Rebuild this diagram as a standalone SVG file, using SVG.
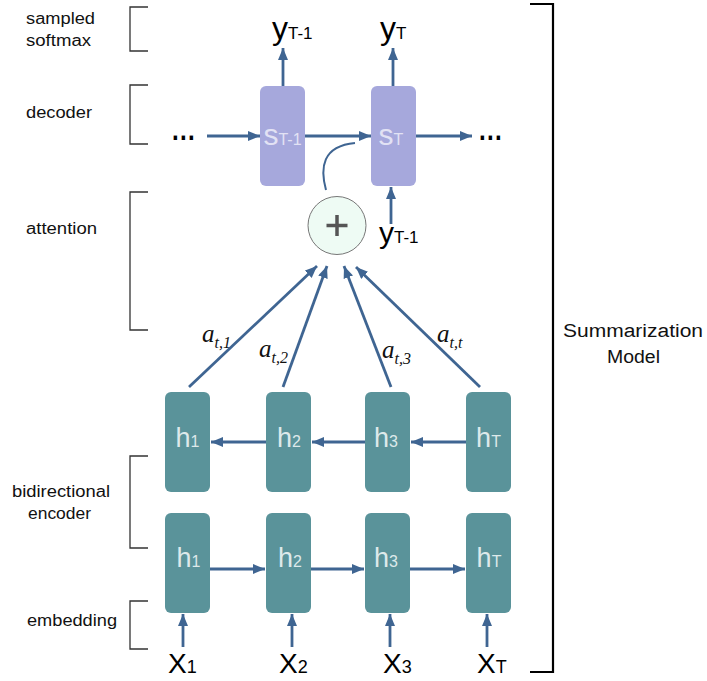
<svg xmlns="http://www.w3.org/2000/svg" width="707" height="681" viewBox="0 0 707 681">
<style>
.lbl{font-family:"Liberation Sans",Arial,sans-serif;font-size:16px;fill:#111}
.brk{fill:none;stroke:#333;stroke-width:1.3}
.dec{fill:#a6a8dc}
.enc{fill:#5a939a}
.dtx{font-family:"Liberation Sans",Arial,sans-serif;fill:#e2e2f4;text-anchor:middle}
.etx{font-family:"Liberation Sans",Arial,sans-serif;fill:#dde9ea;text-anchor:middle}
.big{font-family:"Liberation Sans",Arial,sans-serif;fill:#000}
.math{font-family:"Liberation Serif","Times New Roman",serif;font-style:italic;fill:#111}
.con{fill:none;stroke:#3f6592;stroke-width:2.8}
.arr{marker-end:url(#ah)}
</style>
<defs>
<marker id="ah" markerUnits="userSpaceOnUse" markerWidth="13" markerHeight="11" refX="12" refY="5" orient="auto">
<path d="M0,0 L12,5 L0,10 z" fill="#3f6592"/>
</marker>
</defs>
<rect width="707" height="681" fill="#fff"/>

<g id="labels">
<text class="lbl" x="26" y="24" textLength="69" lengthAdjust="spacingAndGlyphs">sampled</text>
<text class="lbl" x="26" y="46" textLength="65" lengthAdjust="spacingAndGlyphs">softmax</text>
<text class="lbl" x="26" y="118" textLength="66" lengthAdjust="spacingAndGlyphs">decoder</text>
<text class="lbl" x="26" y="234" textLength="71" lengthAdjust="spacingAndGlyphs">attention</text>
<text class="lbl" x="12" y="497" textLength="98" lengthAdjust="spacingAndGlyphs">bidirectional</text>
<text class="lbl" x="28" y="519" textLength="63" lengthAdjust="spacingAndGlyphs">encoder</text>
<text class="lbl" x="27" y="626" textLength="90" lengthAdjust="spacingAndGlyphs">embedding</text>
<text class="lbl" x="563" y="337" style="font-size:18px" textLength="140" lengthAdjust="spacingAndGlyphs">Summarization</text>
<text class="lbl" x="607" y="363" style="font-size:18px" textLength="53" lengthAdjust="spacingAndGlyphs">Model</text>
</g>

<g id="brackets">
<path class="brk" d="M148,7 H130 V51 H148"/>
<path class="brk" d="M148,85 H130 V144 H148"/>
<path class="brk" d="M148,192 H130 V330 H148"/>
<path class="brk" d="M148,456 H130 V548 H148"/>
<path class="brk" d="M148,601 H130 V649 H148"/>
<path d="M530,4 H553 V672 H530" fill="none" stroke="#000" stroke-width="2.2"/>
</g>

<g id="connectors">
<line class="con arr" x1="283" y1="86" x2="283" y2="48"/>
<line class="con arr" x1="393" y1="86" x2="393" y2="48"/>
<line class="con arr" x1="207" y1="136" x2="260" y2="136"/>
<line class="con arr" x1="305" y1="136" x2="371" y2="136"/>
<line class="con arr" x1="416" y1="136" x2="472" y2="136"/>
<line class="con arr" x1="391" y1="224" x2="391" y2="187"/>
<path class="con" style="stroke-width:2" d="M326,190 C320,168 322,146 355,143"/>
<line class="con arr" x1="189" y1="387" x2="317" y2="266"/>
<line class="con arr" x1="283" y1="387" x2="327" y2="266"/>
<line class="con arr" x1="391" y1="387" x2="344" y2="266"/>
<line class="con arr" x1="480" y1="387" x2="356" y2="267"/>
<line class="con arr" x1="266" y1="442" x2="211" y2="442"/>
<line class="con arr" x1="365" y1="442" x2="312" y2="442"/>
<line class="con arr" x1="466" y1="442" x2="411" y2="442"/>
<line class="con arr" x1="210" y1="569" x2="265" y2="569"/>
<line class="con arr" x1="311" y1="569" x2="364" y2="569"/>
<line class="con arr" x1="410" y1="569" x2="465" y2="569"/>
<line class="con arr" x1="183" y1="647" x2="183" y2="614"/>
<line class="con arr" x1="292" y1="647" x2="292" y2="614"/>
<line class="con arr" x1="390" y1="647" x2="390" y2="614"/>
<line class="con arr" x1="487" y1="647" x2="487" y2="614"/>
</g>

<g id="ellipses">
<text class="big" x="172" y="148" style="font-size:30px;font-weight:bold" textLength="24" lengthAdjust="spacingAndGlyphs">···</text>
<text class="big" x="479" y="148" style="font-size:30px;font-weight:bold" textLength="24" lengthAdjust="spacingAndGlyphs">···</text>
</g>

<g id="outputs">
<text class="big" x="272" y="39" style="font-size:32px">y<tspan style="font-size:17px">T-1</tspan></text>
<text class="big" x="380" y="39" style="font-size:32px">y<tspan style="font-size:17px">T</tspan></text>
</g>

<g id="s_T-1">
<rect class="dec" x="260" y="86" width="45" height="100" rx="6"/>
<text class="dtx" x="282.5" y="145" style="font-size:30px">s<tspan style="font-size:16px">T-1</tspan></text>
</g>
<g id="s_T">
<rect class="dec" x="371" y="86" width="45" height="100" rx="6"/>
<text class="dtx" x="391" y="145" style="font-size:30px">s<tspan style="font-size:16px">T</tspan></text>
</g>

<g id="y_prev">
<text class="big" x="379" y="243" style="font-size:30px">y<tspan style="font-size:17px">T-1</tspan></text>
</g>

<g id="attention_sum">
<circle cx="337" cy="225.5" r="29" fill="#eefbf4" stroke="#777" stroke-width="1"/>
<path d="M326.5,225.5 H347.5 M337,215 V236" stroke="#555" stroke-width="3.5"/>
</g>

<g id="weights">
<text class="math" x="202" y="342" style="font-size:25px">a<tspan dy="6" style="font-size:16px">t,1</tspan></text>
<text class="math" x="259" y="357" style="font-size:25px">a<tspan dy="6" style="font-size:16px">t,2</tspan></text>
<text class="math" x="382" y="358" style="font-size:25px">a<tspan dy="6" style="font-size:16px">t,3</tspan></text>
<text class="math" x="437" y="342" style="font-size:25px">a<tspan dy="6" style="font-size:16px">t,t</tspan></text>
</g>

<g id="hb1"><rect class="enc" x="165" y="392" width="45" height="100" rx="6"/><text class="etx" x="187.5" y="447" style="font-size:27px">h<tspan style="font-size:16px">1</tspan></text></g>
<g id="hb2"><rect class="enc" x="266" y="392" width="45" height="100" rx="6"/><text class="etx" x="289" y="447" style="font-size:27px">h<tspan style="font-size:16px">2</tspan></text></g>
<g id="hb3"><rect class="enc" x="365" y="392" width="45" height="100" rx="6"/><text class="etx" x="386" y="447" style="font-size:27px">h<tspan style="font-size:16px">3</tspan></text></g>
<g id="hbT"><rect class="enc" x="466" y="392" width="45" height="100" rx="6"/><text class="etx" x="488.5" y="447" style="font-size:27px">h<tspan style="font-size:16px">T</tspan></text></g>

<g id="hf1"><rect class="enc" x="165" y="513" width="45" height="100" rx="6"/><text class="etx" x="188.5" y="567" style="font-size:27px">h<tspan style="font-size:16px">1</tspan></text></g>
<g id="hf2"><rect class="enc" x="266" y="513" width="45" height="100" rx="6"/><text class="etx" x="290" y="567" style="font-size:27px">h<tspan style="font-size:16px">2</tspan></text></g>
<g id="hf3"><rect class="enc" x="365" y="513" width="45" height="100" rx="6"/><text class="etx" x="386" y="567" style="font-size:27px">h<tspan style="font-size:16px">3</tspan></text></g>
<g id="hfT"><rect class="enc" x="466" y="513" width="45" height="100" rx="6"/><text class="etx" x="489" y="567" style="font-size:27px">h<tspan style="font-size:16px">T</tspan></text></g>

<g id="inputs">
<text class="big" x="168" y="673" style="font-size:28px">X<tspan style="font-size:18px">1</tspan></text>
<text class="big" x="279" y="673" style="font-size:28px">X<tspan style="font-size:18px">2</tspan></text>
<text class="big" x="383" y="673" style="font-size:28px">X<tspan style="font-size:18px">3</tspan></text>
<text class="big" x="477" y="673" style="font-size:28px">X<tspan style="font-size:18px">T</tspan></text>
</g>
</svg>
